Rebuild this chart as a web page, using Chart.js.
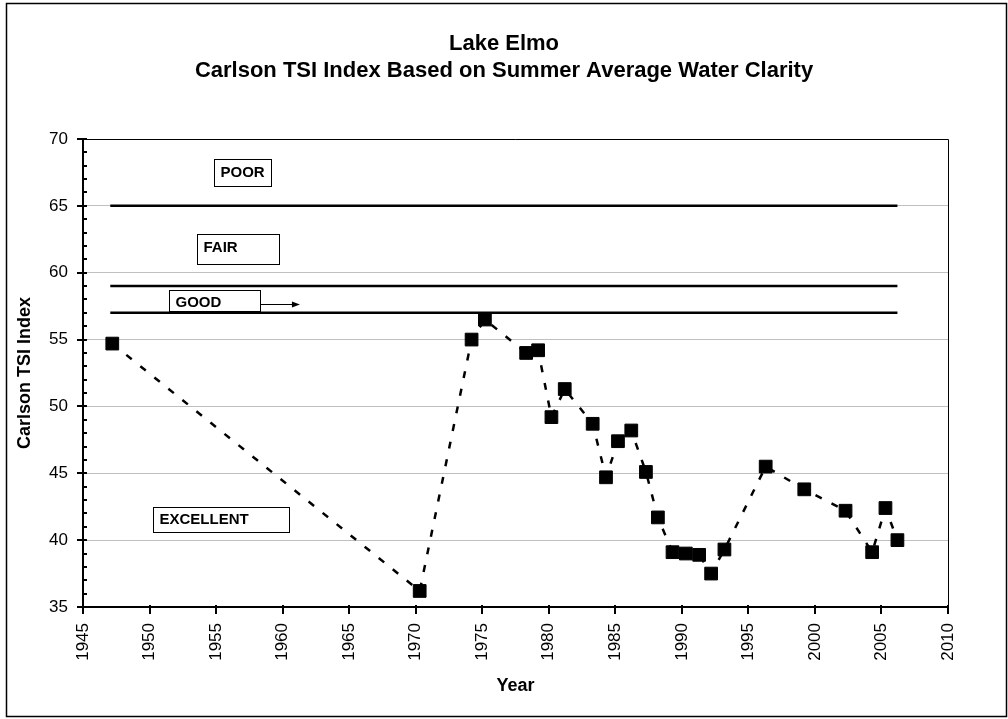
<!DOCTYPE html>
<html>
<head>
<meta charset="utf-8">
<title>Lake Elmo - Carlson TSI</title>
<script src="https://cdn.jsdelivr.net/npm/chart.js@4.4.1/dist/chart.umd.min.js"></script>
<style>
  html, body { margin: 0; padding: 0; background: #fff; }
  #wrap { width: 1008px; height: 719px; }
</style>
</head>
<body>
<div id="wrap"><canvas id="tsiChart" width="1008" height="719"></canvas></div>
<script>
// DATA
const sampleYears = [1947.2, 1970.3, 1974.2, 1975.2, 1978.3, 1979.2, 1980.2, 1981.2, 1983.3, 1984.3,
                     1985.2, 1986.2, 1987.3, 1988.2, 1989.3, 1990.3, 1991.3, 1992.2, 1993.2, 1996.3,
                     1999.2, 2002.3, 2004.3, 2005.3, 2006.2];
const tsiValues = [54.7, 36.2, 55.0, 56.5, 54.0, 54.2, 49.2, 51.3, 48.7, 44.7,
                   47.4, 48.2, 45.1, 41.7, 39.1, 39.0, 38.9, 37.5, 39.3, 45.5,
                   43.8, 42.2, 39.1, 42.4, 40.0];
const thresholdLevels = [65, 59, 57];
const thresholdSpan = [1947.05, 2006.2];
const yearRange = [1945, 2010];
const tsiRange = [35, 70];
const titleLines = ['Lake Elmo', 'Carlson TSI Index Based on Summer Average Water Clarity'];
const zoneLabels = ['POOR', 'FAIR', 'GOOD', 'EXCELLENT'];

const FONT = '"Liberation Sans", Arial, sans-serif';

// zone label boxes, anchored in data units (left year, top TSI), size in px
const zoneBoxes = [
    { year: 1954.85, tsi: 68.53, w: 57, h: 27, ty: 13 },
    { year: 1953.57, tsi: 62.91, w: 82, h: 30, ty: 13 },
    { year: 1951.47, tsi: 58.72, w: 91, h: 21, ty: 12, arrowTo: 1961.3 },
    { year: 1950.26, tsi: 42.48, w: 136, h: 25, ty: 12 }
];

// extra drawing: frame, ticks, title, zone boxes
const decor = {
    id: 'decor',
    afterDraw(chart) {
        const ctx = chart.ctx;
        const a = chart.chartArea;
        const x = chart.scales.x, y = chart.scales.y;
        ctx.save();
        ctx.strokeStyle = '#000';
        ctx.fillStyle = '#000';

        // outer frame
        ctx.lineWidth = 1.5;
        ctx.strokeRect(6.5, 3.5, 1000, 713);

        // plot frame top / right
        ctx.lineWidth = 1;
        ctx.beginPath();
        ctx.moveTo(a.left, Math.round(a.top) + 0.5);
        ctx.lineTo(Math.round(a.right) + 0.5, Math.round(a.top) + 0.5);
        ctx.lineTo(Math.round(a.right) + 0.5, a.bottom);
        ctx.stroke();

        // y ticks (major + minor)
        ctx.lineWidth = 2;
        ctx.beginPath();
        for (let v = tsiRange[0]; v <= tsiRange[1]; v++) {
            const py = Math.round(y.getPixelForValue(v));
            ctx.moveTo(v % 5 === 0 ? a.left - 6 : a.left, py);
            ctx.lineTo(a.left + 4, py);
        }
        // x ticks
        for (let v = yearRange[0]; v <= yearRange[1]; v += 5) {
            const px = Math.round(x.getPixelForValue(v));
            ctx.moveTo(px, a.bottom - 2);
            ctx.lineTo(px, a.bottom + 7);
        }
        ctx.stroke();

        // title
        ctx.font = 'bold 22px ' + FONT;
        ctx.textAlign = 'center';
        ctx.textBaseline = 'alphabetic';
        ctx.fillText(titleLines[0], 504, 50);
        ctx.fillText(titleLines[1], 504, 77);

        // zone boxes
        ctx.font = 'bold 15px ' + FONT;
        ctx.textAlign = 'left';
        ctx.textBaseline = 'middle';
        zoneBoxes.forEach(function (b, i) {
            const bx = Math.round(x.getPixelForValue(b.year)) + 0.5;
            const by = Math.round(y.getPixelForValue(b.tsi)) + 0.5;
            ctx.fillStyle = '#fff';
            ctx.fillRect(bx, by, b.w, b.h);
            ctx.lineWidth = 1;
            ctx.strokeRect(bx, by, b.w, b.h);
            ctx.fillStyle = '#000';
            ctx.fillText(zoneLabels[i], bx + 6, by + b.ty);
            if (b.arrowTo) {
                const ax = x.getPixelForValue(b.arrowTo);
                const ay = by + 14;
                ctx.beginPath();
                ctx.moveTo(bx + b.w, ay);
                ctx.lineTo(ax - 6, ay);
                ctx.stroke();
                ctx.beginPath();
                ctx.moveTo(ax, ay);
                ctx.lineTo(ax - 8, ay - 3);
                ctx.lineTo(ax - 8, ay + 3);
                ctx.closePath();
                ctx.fill();
            }
        });
        ctx.restore();
    }
};

const datasets = thresholdLevels.map(function (lvl) {
    return {
        data: [{ x: thresholdSpan[0], y: lvl }, { x: thresholdSpan[1], y: lvl }],
        borderColor: '#000',
        borderWidth: 2.5,
        pointRadius: 0,
        order: 2
    };
});

datasets.push({
    label: 'Carlson TSI',
    data: sampleYears.map(function (yr, i) { return { x: yr, y: tsiValues[i] }; }),
    borderColor: '#000',
    borderWidth: 2.5,
    borderDash: [7, 11],
    pointStyle: 'rect',
    pointRadius: 9,
    pointBackgroundColor: '#000',
    pointBorderColor: '#000',
    pointBorderWidth: 1,
    tension: 0,
    order: 1
});

new Chart(document.getElementById('tsiChart'), {
    type: 'line',
    data: { datasets: datasets },
    options: {
        responsive: false,
        animation: false,
        devicePixelRatio: 1,
        layout: { padding: { top: 139, right: 60, bottom: 0, left: 0 } },
        plugins: {
            legend: { display: false },
            tooltip: { enabled: false },
            title: { display: false }
        },
        scales: {
            x: {
                type: 'linear',
                min: yearRange[0],
                max: yearRange[1],
                afterFit: function (s) { s.height = 112; },
                grid: { display: false, drawTicks: false },
                border: { display: true, color: '#000', width: 2 },
                ticks: {
                    stepSize: 5,
                    autoSkip: false,
                    minRotation: 90,
                    maxRotation: 90,
                    padding: 16,
                    color: '#000',
                    font: { family: FONT, size: 17 },
                    callback: function (v) { return String(v); }
                },
                title: {
                    display: true,
                    text: 'Year',
                    color: '#000',
                    font: { family: FONT, size: 18, weight: 'bold' },
                    padding: { top: 0, bottom: 22 }
                }
            },
            y: {
                min: tsiRange[0],
                max: tsiRange[1],
                afterFit: function (s) { s.width = 83; },
                grid: { color: '#c0c0c0', lineWidth: 1, drawTicks: false },
                border: { display: true, color: '#000', width: 2 },
                ticks: {
                    stepSize: 5,
                    padding: 15,
                    color: '#000',
                    font: { family: FONT, size: 17 }
                },
                title: {
                    display: true,
                    text: 'Carlson TSI Index',
                    color: '#000',
                    font: { family: FONT, size: 18, weight: 'bold' },
                    padding: { top: 14, bottom: 0 }
                }
            }
        }
    },
    plugins: [decor]
});
</script>
</body>
</html>
